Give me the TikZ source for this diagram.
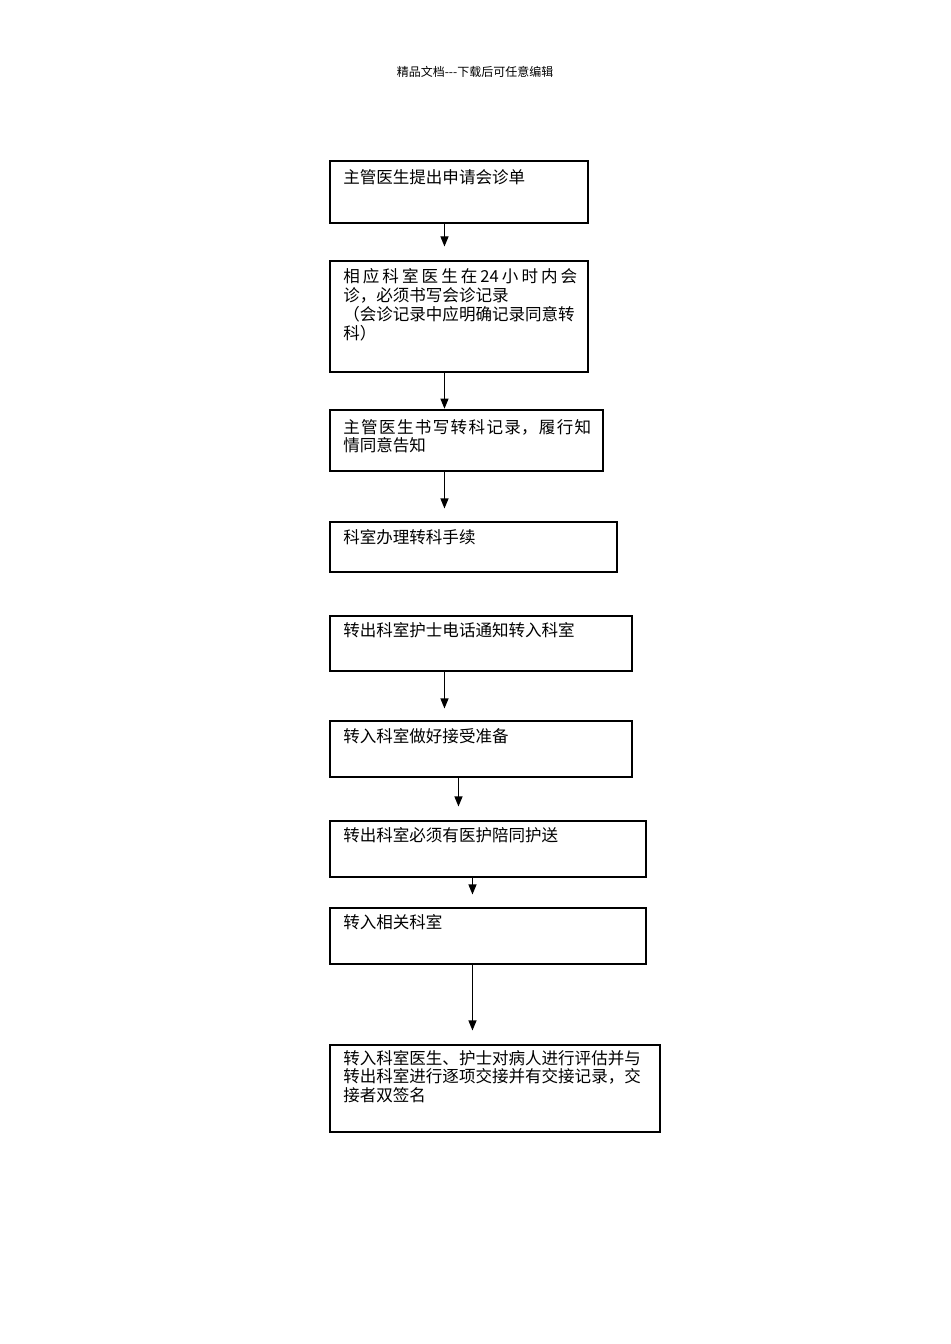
\documentclass[tikz,border=0pt]{standalone}
\usepackage{fontspec}
\setmainfont{Noto Sans CJK SC}
\usetikzlibrary{arrows.meta,calc,fit}
\newcommand{\spreadline}[2]{\hbox to #1{#2}}
\begin{document}
\begin{tikzpicture}[x=0.75pt,y=-0.75pt,
  box/.style={draw, line width=0.8pt, inner sep=0pt, fit={#1}},
  txt/.style={anchor=base west, inner sep=0pt, text width=260pt, align=left,
    font=\fontsize{12.4pt}{14.1pt}\selectfont},
  head/.style={anchor=base, inner sep=0pt, font=\fontsize{9pt}{11pt}\selectfont},
  arr/.style={line width=0.8pt, -{Triangle[length=7.5pt,width=6pt]}}]
\useasboundingbox (0,0) rectangle (950,1344);
\node[head] (hd) at (475,77) {精品文档{-}{-}{-}下载后可任意编辑};

\node[box={(330,161) (588,223)}] (b1) {};
\node[box={(330,261) (588,372)}] (b2) {};
\node[box={(330,410) (603,471)}] (b3) {};
\node[box={(330,522) (617,572)}] (b4) {};
\node[box={(330,616) (632,671)}] (b5) {};
\node[box={(330,721) (632,777)}] (b6) {};
\node[box={(330,821) (646,877)}] (b7) {};
\node[box={(330,908) (646,964)}] (b8) {};
\node[box={(330,1045) (660,1132)}] (b9) {};

\node[txt] (t1) at (343,184) {主管医生提出申请会诊单};
\node[txt] (t2) at (343,283) {\spreadline{175.5pt}{相\hfil 应\hfil 科\hfil 室\hfil 医\hfil 生\hfil 在\hfil 24\hfil 小\hfil 时\hfil 内\hfil 会}\\诊，必须书写会诊记录\\（会诊记录中应明确记录同意转\\科）};
\node[txt] (t3) at (343,433) {\spreadline{186pt}{主\hfil 管\hfil 医\hfil 生\hfil 书\hfil 写\hfil 转\hfil 科\hfil 记\hfil 录，\hfil 履\hfil 行\hfil 知}\\情同意告知};
\node[txt] (t4) at (343,543) {科室办理转科手续};
\node[txt] (t5) at (343,636) {转出科室护士电话通知转入科室};
\node[txt] (t6) at (343,742) {转入科室做好接受准备};
\node[txt] (t7) at (343,841) {转出科室必须有医护陪同护送};
\node[txt] (t8) at (343,928) {转入相关科室};
\node[txt] (t9) at (343,1064) {转入科室医生、护士对病人进行评估并与\\转出科室进行逐项交接并有交接记录，交\\接者双签名};

\draw[arr, shorten >=10.5pt] ($(b1.south west)+(115,0)$) -- ($(b2.north west)+(115,0)$);
\draw[arr, shorten >=0.6pt] ($(b2.south west)+(115,0)$) -- ($(b3.north west)+(115,0)$);
\draw[arr, shorten >=9.75pt] ($(b3.south west)+(115,0)$) -- ($(b4.north west)+(115,0)$);
\draw[arr, shorten >=9pt] ($(b5.south west)+(115,0)$) -- ($(b6.north west)+(115,0)$);
\draw[arr, shorten >=10.5pt] ($(b6.south west)+(129,0)$) -- ($(b7.north west)+(129,0)$);
\draw[arr, shorten >=9.75pt] ($(b7.south west)+(143,0)$) -- ($(b8.north west)+(143,0)$);
\draw[arr, shorten >=10.5pt] ($(b8.south west)+(143,0)$) -- ($(b9.north west)+(143,0)$);
\end{tikzpicture}
\end{document}
